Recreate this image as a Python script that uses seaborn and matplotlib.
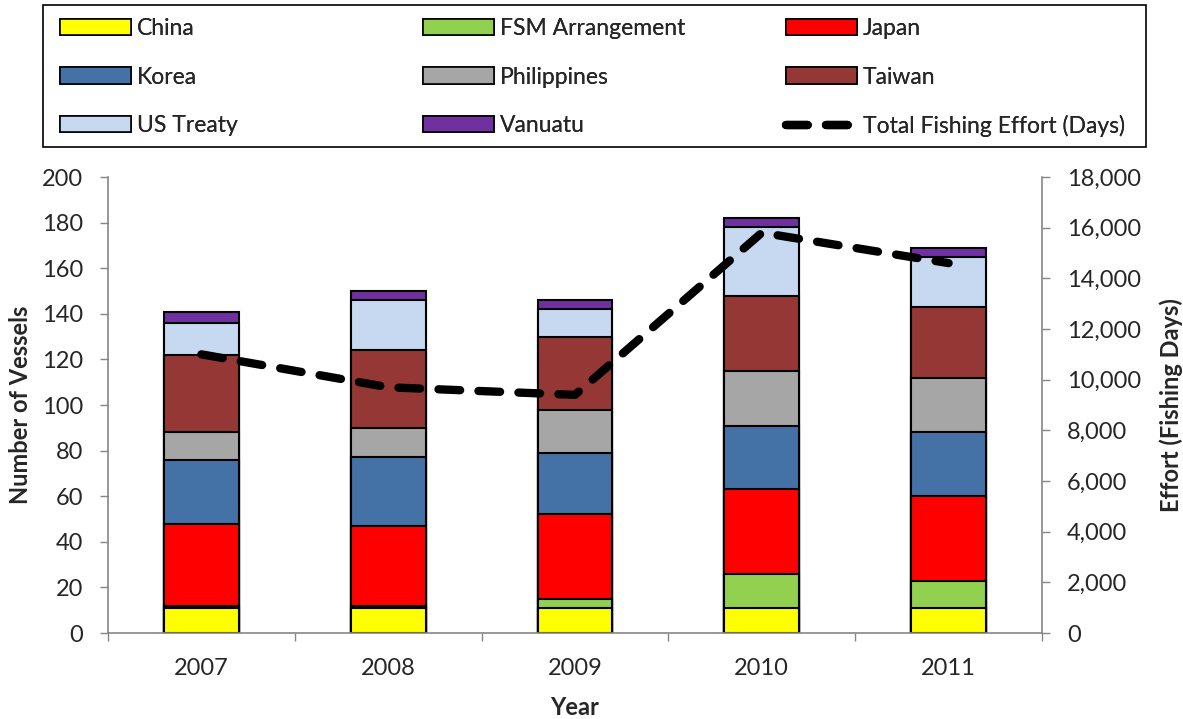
import numpy as np
import pandas as pd
import matplotlib
matplotlib.use("Agg")
import matplotlib.pyplot as plt
import seaborn as sns
from matplotlib.patches import Patch, Rectangle
from matplotlib.lines import Line2D
from matplotlib.ticker import FuncFormatter, MultipleLocator

years = ["2007", "2008", "2009", "2010", "2011"]
china = [11, 11, 11, 11, 11]
fsm = [1, 1, 4, 15, 12]
japan = [36, 35, 37, 37, 37]
korea = [28, 30, 27, 28, 28]
philippines = [12, 13, 19, 24, 24]
taiwan = [34, 34, 32, 33, 31]
us_treaty = [14, 22, 12, 30, 22]
vanuatu = [5, 4, 4, 4, 4]
effort = [11000, 9700, 9400, 15800, 14600]

series_names = ["China", "FSM Arrangement", "Japan", "Korea", "Philippines",
                "Taiwan", "US Treaty", "Vanuatu"]
series_vals = [china, fsm, japan, korea, philippines, taiwan, us_treaty, vanuatu]
colors = ["#FFFF00", "#92D050", "#FF0000", "#4472A6", "#A6A6A6",
          "#953735", "#C6D9F1", "#7030A0"]
line_label = "Total Fishing Effort (Days)"

sns.set_theme(style="white")
plt.rcParams['font.family'] = ['Lato', 'DejaVu Sans']

W, H = 1183, 719
fig = plt.figure(figsize=(W/100, H/100), dpi=100)
ax = fig.add_axes([108/W, 1-633/H, (1042-108)/W, (633-177)/H])

TICK_FS = 17
LAB_FS = 17
LEG_FS = 16.5
GRAY = "#868686"
DASH = (0, (2.6, 2.2))

cum = np.cumsum(np.array(series_vals), axis=0)
# draw tallest cumulative first, then overlay smaller ones
for i in reversed(range(len(series_names))):
    df = pd.DataFrame({"year": years, "value": cum[i]})
    sns.barplot(data=df, x="year", y="value", color=colors[i], ax=ax,
                width=0.4, edgecolor="black", linewidth=1.5, saturation=1,
                errorbar=None)

ax.set_ylim(0, 200)
ax.set_xlim(-0.5, 4.5)
ax.yaxis.set_major_locator(MultipleLocator(20))
ax.set_ylabel("Number of Vessels", fontsize=LAB_FS, fontweight="bold", labelpad=7)
ax.set_xlabel("Year", fontsize=LAB_FS, fontweight="bold", labelpad=12)
ax.tick_params(axis="y", which="major", length=6, width=1, color=GRAY,
               direction="out", left=True, labelsize=TICK_FS, pad=12)
ax.tick_params(axis="x", which="major", length=0, labelsize=TICK_FS, pad=18)
ax.set_xticks(np.arange(-0.5, 5, 1), minor=True)
ax.tick_params(axis="x", which="minor", length=6, width=1, color=GRAY,
               direction="out", bottom=True)
for s in ["top", "right"]:
    ax.spines[s].set_visible(False)
for s in ["left", "bottom"]:
    ax.spines[s].set_color(GRAY)
    ax.spines[s].set_linewidth(1.2)

ax2 = ax.twinx()
sns.lineplot(x=np.arange(len(years)), y=effort, ax=ax2, color="black",
             linewidth=6, linestyle=DASH, dash_capstyle="round",
             solid_capstyle="round")
ax2.set_ylim(0, 18000)
ax2.yaxis.set_major_locator(MultipleLocator(2000))
ax2.yaxis.set_major_formatter(FuncFormatter(lambda v, p: f"{int(v):,}"))
ax2.set_ylabel("Effort (Fishing Days)", fontsize=LAB_FS, fontweight="bold", labelpad=13)
ax2.tick_params(axis="y", length=6, width=1, color=GRAY, direction="out",
                right=True, labelsize=TICK_FS, pad=12)
for s in ["top", "left", "bottom"]:
    ax2.spines[s].set_visible(False)
ax2.spines["right"].set_color(GRAY)
ax2.spines["right"].set_linewidth(1.2)
ax2.grid(False)
ax.grid(False)

# legend: three columns placed at fixed positions, framed box
patches = {n: Patch(facecolor=c, edgecolor="black", linewidth=1.2)
           for n, c in zip(series_names, colors)}
line_h = Line2D([0], [0], color="black", linewidth=6, linestyle=DASH,
                dash_capstyle="round")
columns = [
    (["China", "Korea", "US Treaty"],
     [patches["China"], patches["Korea"], patches["US Treaty"]], 60),
    (["FSM Arrangement", "Philippines", "Vanuatu"],
     [patches["FSM Arrangement"], patches["Philippines"], patches["Vanuatu"]], 423),
    (["Japan", "Taiwan", line_label],
     [patches["Japan"], patches["Taiwan"], line_h], 786),
]
for labels, handles, x0 in columns:
    leg = fig.legend(handles, labels, loc="upper left",
                     bbox_to_anchor=(x0/W, 1-18/H), fontsize=LEG_FS,
                     frameon=False, handlelength=3.1, handletextpad=0.25,
                     labelspacing=1.2, borderaxespad=0, borderpad=0)
    fig.add_artist(leg)

fig.add_artist(Rectangle((43/W, 1-147/H), (1146-43)/W, 142/H,
                         transform=fig.transFigure, fill=False,
                         edgecolor="black", linewidth=1.2))

fig.savefig("out.png", dpi=100)
